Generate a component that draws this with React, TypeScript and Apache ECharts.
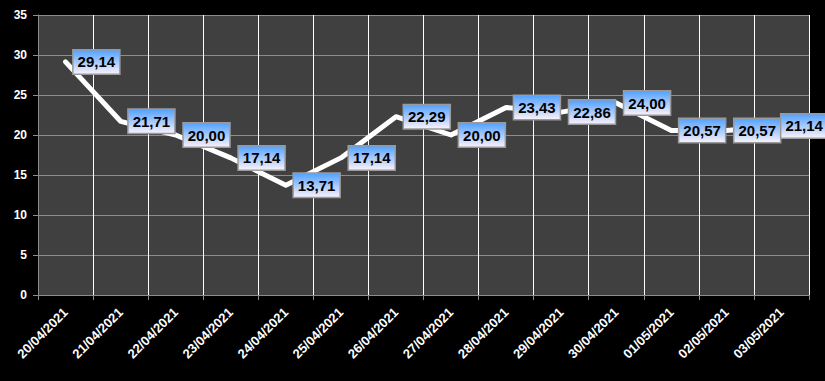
import React, { useEffect, useRef } from "react";
import * as echarts from "echarts";

const categories = [
  "20/04/2021", "21/04/2021", "22/04/2021", "23/04/2021", "24/04/2021",
  "25/04/2021", "26/04/2021", "27/04/2021", "28/04/2021", "29/04/2021",
  "30/04/2021", "01/05/2021", "02/05/2021", "03/05/2021",
];
const values = [29.14, 21.71, 20.0, 17.14, 13.71, 17.14, 22.29, 20.0, 23.43, 22.86, 24.0, 20.57, 20.57, 21.14];
const yTicks = { min: 0, max: 35, interval: 5 };

export default function App() {
  const ref = useRef<HTMLDivElement>(null);
  useEffect(() => {
    document.body.style.margin = "0";
    document.body.style.background = "#000";
    const chart = echarts.init(ref.current!, null, { renderer: "svg" });
    const labelBg = new echarts.graphic.LinearGradient(0, 0, 0, 1, [
      { offset: 0, color: "#55a2ff" },
      { offset: 1, color: "#f6f0fa" },
    ]);
    const font = "'Liberation Sans', Arial, sans-serif";
    chart.setOption({
      animation: false,
      backgroundColor: "#000000",
      grid: {
        left: 38, right: 16, top: 15, bottom: 86,
        show: true, backgroundColor: "#404040", borderWidth: 0,
      },
      xAxis: {
        type: "category",
        data: categories,
        boundaryGap: true,
        axisLine: { show: true, lineStyle: { color: "#8c8c8c", width: 1 } },
        axisTick: { show: true, length: 5, lineStyle: { color: "#8c8c8c" } },
        splitLine: { show: true, lineStyle: { color: "#ffffff", width: 1 } },
        axisLabel: {
          rotate: 45, color: "#ffffff", fontWeight: "bold", fontSize: 13,
          fontFamily: font, margin: 15, interval: 0,
        },
      },
      yAxis: {
        type: "value",
        min: yTicks.min, max: yTicks.max, interval: yTicks.interval,
        axisLine: { show: true, lineStyle: { color: "#8c8c8c", width: 1 } },
        axisTick: { show: true, length: 5, lineStyle: { color: "#8c8c8c" } },
        splitLine: { show: true, lineStyle: { color: "#8c8c8c", width: 1 } },
        axisLabel: {
          color: "#ffffff", fontWeight: "bold", fontSize: 12, fontFamily: font, margin: 11,
        },
      },
      series: [
        {
          type: "line",
          data: values.map((v, i) => ({
            value: v,
            label: i === values.length - 1 ? { position: "insideLeft", distance: 0 } : undefined,
          })),
          showSymbol: true,
          symbol: "circle",
          symbolSize: 0.1,
          itemStyle: { color: "#ffffff" },
          lineStyle: { color: "#ffffff", width: 5, join: "round", cap: "round" },
          label: {
            show: true,
            position: "right",
            distance: 8,
            formatter: (p: any) => p.value.toFixed(2).replace(".", ","),
            color: "#000000",
            fontWeight: "bold",
            fontSize: 15,
            fontFamily: font,
            backgroundColor: labelBg,
            borderColor: "#9a9a9a",
            borderWidth: 1.5,
            padding: [5, 4, 3, 4],
          },
          labelLayout: { hideOverlap: false },
        },
      ],
    });
    return () => chart.dispose();
  }, []);
  return <div ref={ref} style={{ width: 825, height: 381 }} />;
}
